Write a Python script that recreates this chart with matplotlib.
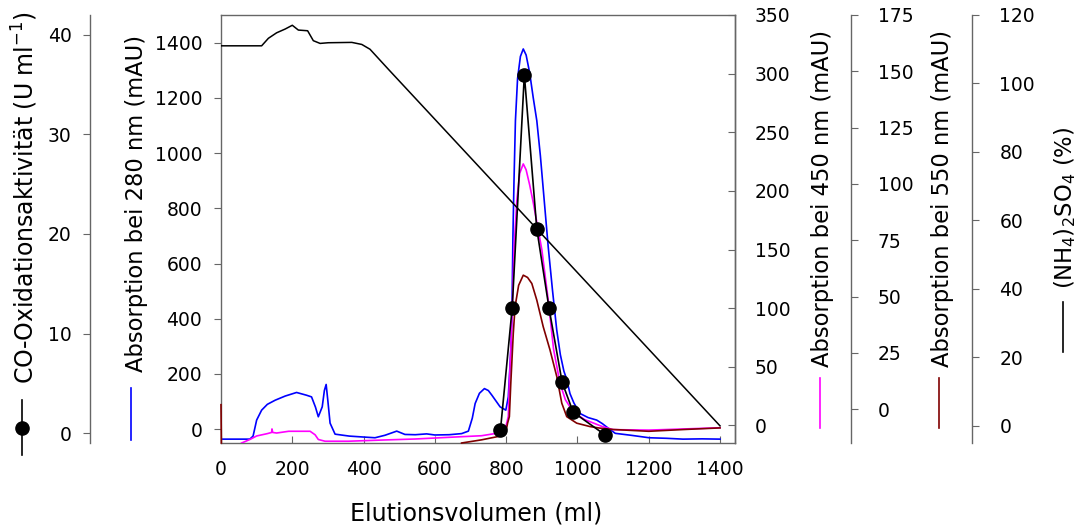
import matplotlib
matplotlib.use("Agg")
import matplotlib.pyplot as plt
import numpy as np
from matplotlib.lines import Line2D

plt.rcParams['font.family'] = ['DejaVu Sans']
plt.rcParams['font.size'] = 13.5

W, H = 1078, 529

# Absorption 280 nm (mAU)
ml_280 = [0, 6, 81, 90, 100, 114, 130, 152, 180, 212, 240, 254, 265, 273, 284, 290, 295, 300, 306, 320,
          360, 395, 432, 460, 493, 516, 545, 577, 600, 640, 675, 694, 705, 713, 725, 739, 750, 760, 783,
          799, 806, 811, 813, 816, 819, 822, 826, 832, 840, 848, 856, 866, 876, 886, 896, 906, 918, 930,
          942, 952, 962, 970, 979, 990, 1007, 1030, 1054, 1070, 1082, 1106, 1150, 1201, 1250, 1296, 1350, 1400]
a280 = [-36, -36, -36, -25, 33, 69, 90, 105, 120, 133, 123, 117, 80, 45, 81, 140, 162, 100, 22, -18,
        -25, -28, -31, -22, -7, -19, -20, -17, -21, -20, -16, -7, 40, 93, 130, 147, 140, 123, 81,
        69, 117, 238, 286, 400, 700, 900, 1117, 1270, 1350, 1377, 1355, 1290, 1200, 1117, 990, 840, 660, 503,
        358, 270, 210, 180, 129, 95, 57, 42, 33, 20, 8, -15, -22, -31, -33, -36, -35, -36]

# Absorption 450 nm (mAU)
ml_450 = [58, 81, 100, 130, 142, 143, 145, 156, 190, 217, 250, 264, 273, 292, 357, 450, 544, 650, 731, 778,
          797, 806, 809, 813, 818, 822, 830, 838, 848, 856, 866, 876, 888, 900, 918, 933, 951, 966, 984,
          1000, 1020, 1045, 1070, 1100, 1200, 1300, 1400]
a450 = [-15, -12, -9, -7, -6, -3, -6, -6.5, -5, -5, -5, -8, -12, -13.5, -13.5, -12.5, -11.6, -10, -8.8, -6.5,
        -3.7, 7.7, 36, 65, 107, 150, 192, 215, 223, 218, 205, 190, 170, 150, 107, 65, 36, 22, 13.4,
        9, 5, 2, -1, -3.6, -4, -3, -2]

# Absorption 550 nm (mAU)
ml_550 = [0, 1, np.nan, 675, 731, 778, 792, 797, 800, 804, 809, 813, 820, 825, 835, 848, 860, 872,
          886, 904, 923, 942, 956, 970, 998, 1035, 1063, 1100, 1200, 1300, 1400]
a550 = [2, -15, np.nan, -15, -13.6, -12.1, -11.5, -10.6, -9.5, -6.2, -3.3, 11.5, 33.7, 45.5, 55, 59.5,
        58.5, 55.8, 48.4, 36.6, 26.3, 14.5, 2.7, -3.3, -6.2, -7.7, -8.4, -9, -9.8, -9, -8.3]

# CO-Oxidationsaktivitaet (U/ml)
ml_co = [784, 817, 851, 886, 920, 957, 988, 1078]
co = [0.3, 12.6, 36.0, 20.5, 12.6, 5.1, 2.1, -0.2]

# (NH4)2SO4 (%)
ml_nh = [0, 114, 133, 156, 180, 200, 217, 243, 259, 278, 301, 367, 395, 418, 470, 1400]
nh = [111, 111, 113.2, 114.8, 115.9, 117, 115.6, 115.4, 112.5, 111.7, 111.9, 112, 111.4, 110, 104.1, 0]

spine_c = '#666666'
lab_fs = 17
abs_fs = 16.3

fig = plt.figure(figsize=(W / 100, H / 100), dpi=100)
x0, x1, yt, yb = 221, 735, 15, 443
ax = fig.add_axes([x0 / W, 1 - yb / H, (x1 - x0) / W, (yb - yt) / H])

ax450 = ax.twinx()
ax550 = ax.twinx()
axco = ax.twinx()
axnh = ax.twinx()

ax.plot(ml_280, a280, color='#0000ff', lw=1.2)
ax450.plot(ml_450, a450, color='#ff00ff', lw=1.2)
ax550.plot(ml_550, a550, color='#800000', lw=1.2, clip_on=False)
axco.plot(ml_co, co, color='black', lw=1.2, marker='o', markersize=9.5)
axnh.plot(ml_nh, nh, color='black', lw=1.1)

ax.set_xlim(0, 1442)
ax.set_ylim(-50, 1500)
ax450.set_ylim(-15, 350)
ax550.set_ylim(-15, 175)
axco.set_ylim(-1, 42)
axnh.set_ylim(-5, 120)

ax.set_xticks(np.arange(0, 1401, 200))
ax.set_yticks(np.arange(0, 1401, 200))
ax450.set_yticks(np.arange(0, 351, 50))
ax550.set_yticks(np.arange(0, 176, 25))
axco.set_yticks(np.arange(0, 41, 10))
axnh.set_yticks(np.arange(0, 121, 20))

for a in (ax, ax450, ax550, axco, axnh):
    for s in a.spines.values():
        s.set_color(spine_c)
        s.set_linewidth(1.0)

for a in (ax450, ax550, axco, axnh):
    for name in ('left', 'top', 'bottom', 'right'):
        a.spines[name].set_visible(False)

ax450.spines['right'].set_visible(True)
ax550.spines['right'].set_visible(True)
ax550.spines['right'].set_position(('axes', (851 - x0) / (x1 - x0)))
axnh.spines['right'].set_visible(True)
axnh.spines['right'].set_position(('axes', (972 - x0) / (x1 - x0)))
axco.yaxis.tick_left()
axco.spines['left'].set_visible(True)
axco.spines['left'].set_position(('axes', (90 - x0) / (x1 - x0)))

ax.tick_params(axis='x', direction='in', length=5, pad=12.5, color=spine_c)
ax.tick_params(axis='y', direction='out', length=5, pad=8.5, color=spine_c)
ax450.tick_params(axis='y', direction='in', length=5, pad=14.4, color=spine_c)
ax550.tick_params(axis='y', direction='out', length=5, pad=14.4, color=spine_c)
axnh.tick_params(axis='y', direction='out', length=5.3, pad=14.4, color=spine_c)
axco.tick_params(axis='y', direction='out', length=5.3, pad=8, color=spine_c)

# axis labels
fig.text(476 / W, 1 - 513 / H, 'Elutionsvolumen (ml)', ha='center', va='center', fontsize=lab_fs)
fig.text(25 / W, 1 - 198 / H, 'CO-Oxidationsaktivität (U ml$^{-1}$)', rotation=90,
         ha='center', va='center', fontsize=lab_fs)
fig.text(136 / W, 1 - 203 / H, 'Absorption bei 280 nm (mAU)', rotation=90,
         ha='center', va='center', fontsize=abs_fs)
fig.text(823 / W, 1 - 198 / H, 'Absorption bei 450 nm (mAU)', rotation=90,
         ha='center', va='center', fontsize=abs_fs)
fig.text(942 / W, 1 - 198 / H, 'Absorption bei 550 nm (mAU)', rotation=90,
         ha='center', va='center', fontsize=abs_fs)
fig.text(1065 / W, 1 - 208 / H, '(NH$_4$)$_2$SO$_4$ (%)', rotation=90,
         ha='center', va='center', fontsize=abs_fs)


# small series keys under the labels
def key(x, ya, yb_, color, marker=None):
    fig.add_artist(Line2D([x / W, x / W], [1 - ya / H, 1 - yb_ / H], transform=fig.transFigure,
                          color=color, lw=1.2))
    if marker:
        ym = (ya + yb_) / 2
        fig.add_artist(Line2D([x / W], [1 - ym / H], transform=fig.transFigure, color=color,
                              marker=marker, markersize=9.5))


key(22, 400, 455, 'black', marker='o')
key(131, 388, 440, '#0000ff')
key(820, 378, 428, '#ff00ff')
key(939, 378, 428, '#800000')
key(1063, 302, 352, 'black')

fig.savefig('out.png', dpi=100)
